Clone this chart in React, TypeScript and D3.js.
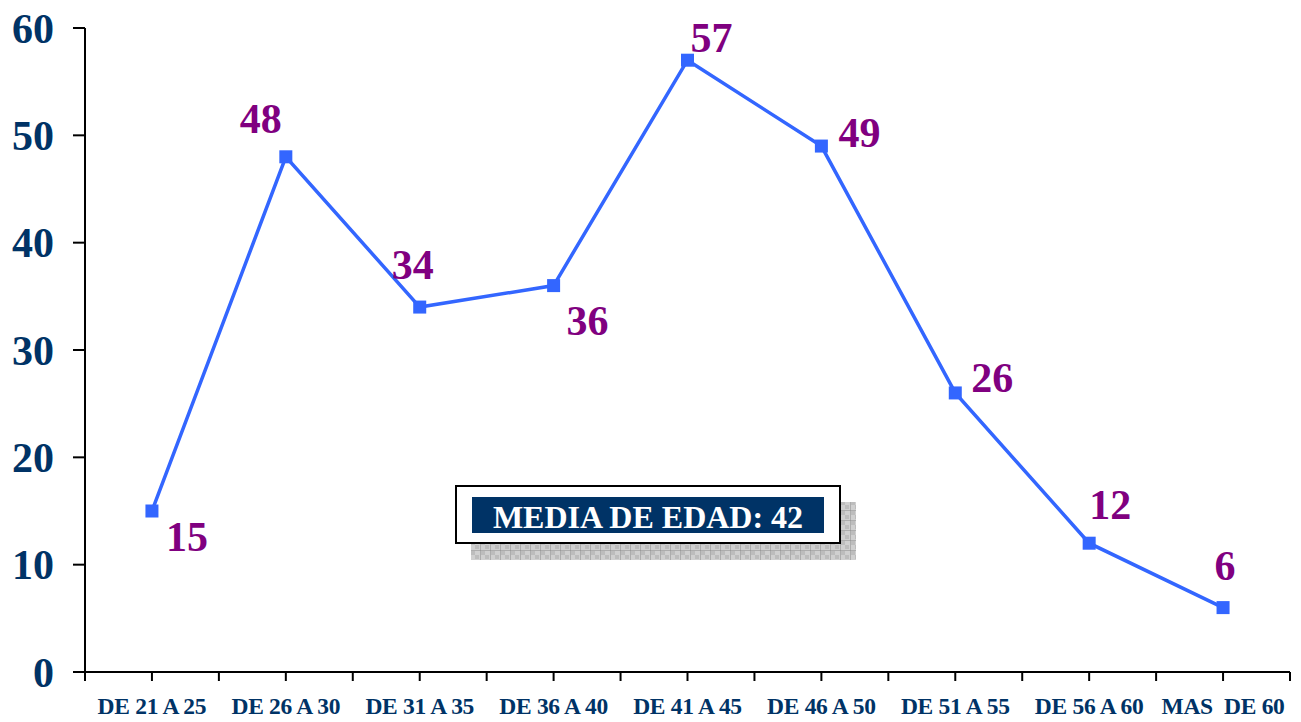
import React from "react";
import * as d3 from "d3";

const categories = ["DE 21 A 25", "DE 26 A 30", "DE 31 A 35", "DE 36 A 40", "DE 41 A 45", "DE 46 A 50", "DE 51 A 55", "DE 56 A 60", "MAS  DE 60"];
const values = [15, 48, 34, 36, 57, 49, 26, 12, 6];
const yTicks = [0, 10, 20, 30, 40, 50, 60];
const meanLabel = "MEDIA DE EDAD: 42";
// label offsets relative to the point (dx, dy to baseline)
const labelOffsets: [number, number][] = [[35, 40], [-25, -24], [-7, -28], [34, 49], [24, -8], [38, 1], [37, -1], [21, -24], [2, -28]];

const W = 1301, H = 722;
const left = 85, right = 1290, top = 28, bottom = 672;

export default function App() {
  const x = d3.scaleBand<string>().domain(categories).range([left, right]).padding(0);
  const y = d3.scaleLinear().domain([0, 60]).range([bottom, top]);
  const cx = (c: string) => (x(c) as number) + x.bandwidth() / 2;
  const line = d3.line<number>().x((_, i) => cx(categories[i])).y((d) => y(d));
  const xTicks: number[] = [];
  categories.forEach((c) => { xTicks.push(x(c) as number); xTicks.push(cx(c)); });
  xTicks.push(right);
  const font = "'Liberation Serif', 'Times New Roman', serif";
  return (
    <svg width={W} height={H} style={{ position: "absolute", left: 0, top: 0, background: "#fff" }}>
      <defs>
        <pattern id="grid" width="10" height="10" patternUnits="userSpaceOnUse">
          <rect width="10" height="10" fill="#d0d0d0" />
          <path d="M0 0 H10 M0 0 V10" stroke="#8a8a8a" strokeWidth="1" />
          <rect x="1" y="1" width="4" height="4" fill="#bdbdbd" />
          <rect x="5" y="5" width="4" height="4" fill="#bdbdbd" />
        </pattern>
      </defs>
      {/* axes */}
      <line x1={left} x2={left} y1={top} y2={bottom + 9} stroke="#000" strokeWidth={2} />
      <line x1={left - 12} x2={right} y1={bottom} y2={bottom} stroke="#000" strokeWidth={2} />
      {yTicks.map((t) => (
        <g key={t}>
          <line x1={left - 12} x2={left} y1={y(t)} y2={y(t)} stroke="#000" strokeWidth={2} />
          <text x={54} y={y(t)} dy="0.35em" textAnchor="end" fontFamily={font} fontWeight="bold" fontSize={42} fill="#003366">{t}</text>
        </g>
      ))}
      {xTicks.map((t, i) => (
        <line key={i} x1={t} x2={t} y1={bottom} y2={bottom + 9} stroke="#000" strokeWidth={2} />
      ))}
      {categories.map((c) => (
        <text key={c} x={cx(c)} y={714} textAnchor="middle" fontFamily={font} fontWeight="bold" fontSize={23.5} letterSpacing={-0.3} fill="#003366" style={{ whiteSpace: "pre" }}>{c}</text>
      ))}
      {/* mean box */}
      <rect x={471} y={502} width={385} height={58} fill="url(#grid)" />
      <rect x={456} y={486} width={384} height={57} fill="#fff" stroke="#000" strokeWidth={2} />
      <rect x={472} y={497} width={352} height={36} fill="#003366" />
      <text x={648} y={528} textAnchor="middle" fontFamily={font} fontWeight="bold" fontSize={32} fill="#fff">{meanLabel}</text>
      {/* line */}
      <path d={line(values) || ""} fill="none" stroke="#3366FF" strokeWidth={3.5} />
      {values.map((v, i) => (
        <rect key={i} x={cx(categories[i]) - 6.5} y={y(v) - 6.5} width={13} height={13} fill="#3366FF" />
      ))}
      {values.map((v, i) => (
        <text key={"l" + i} x={cx(categories[i]) + labelOffsets[i][0]} y={y(v) + labelOffsets[i][1]} textAnchor="middle" fontFamily={font} fontWeight="bold" fontSize={42} fill="#800080">{v}</text>
      ))}
    </svg>
  );
}
